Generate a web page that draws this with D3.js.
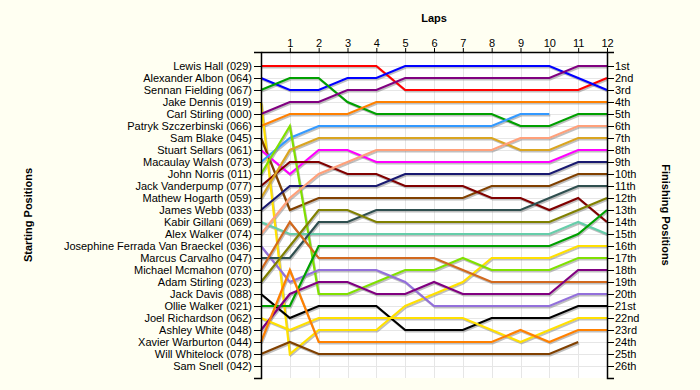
<!DOCTYPE html>
<html>
<head>
<meta charset="utf-8">
<script src="https://cdn.jsdelivr.net/npm/d3@7"></script>
<style>
  html, body { margin: 0; padding: 0; background: #FFFFF2; }
  svg { display: block; }
  text { font-family: "Liberation Sans", Arial, sans-serif; }
</style>
</head>
<body>
<svg id="chart" width="700" height="390"></svg>
<script>
const lapTicks = [1, 2, 3, 4, 5, 6, 7, 8, 9, 10, 11, 12];
const laps = [0, 1, 2, 3, 4, 5, 6, 7, 8, 9, 10, 11, 12];

const drivers = [
  "Lewis Hall (029)", "Alexander Albon (064)", "Sennan Fielding (067)", "Jake Dennis (019)",
  "Carl Stirling (000)", "Patryk Szczerbinski (066)", "Sam Blake (045)", "Stuart Sellars (061)",
  "Macaulay Walsh (073)", "John Norris (011)", "Jack Vanderpump (077)", "Mathew Hogarth (059)",
  "James Webb (033)", "Kabir Gillani (069)", "Alex Walker (074)", "Josephine Ferrada Van Braeckel (036)",
  "Marcus Carvalho (047)", "Michael Mcmahon (070)", "Adam Stirling (023)", "Jack Davis (088)",
  "Ollie Walker (021)", "Joel Richardson (062)", "Ashley White (048)", "Xavier Warburton (044)",
  "Will Whitelock (078)", "Sam Snell (042)"
];

const finishLabels = [
  "1st", "2nd", "3rd", "4th", "5th", "6th", "7th", "8th", "9th", "10th", "11th", "12th", "13th",
  "14th", "15th", "16th", "17th", "18th", "19th", "20th", "21st", "22nd", "23rd", "24th", "25th", "26th"
];

const colors = [
  "#ff0000", "#0000ff", "#00a000", "#ffe000", "#800080", "#ff8000", "#804000", "#ff00ff",
  "#3399ff", "#80e000", "#800000", "#daa520", "#191970", "#66cdaa", "#ffa07a", "#9370db",
  "#2f4f4f", "#d2691e", "#808000", "#000000", "#00a000", "#ffe000", "#800080", "#ff8000",
  "#804000", "#ff00ff"
];

// position held by each driver at laps 0..12 (null = not running)
const lapPositions = [
  [1, 1, 1, 1, 1, 3, 3, 3, 3, 3, 3, 3, 2],
  [2, 3, 3, 2, 2, 1, 1, 1, 1, 1, 1, 2, 3],
  [3, 2, 2, 4, 5, 5, 5, 5, 5, 6, 6, 5, 5],
  [4, 25, 23, 23, 23, 21, 20, 19, 17, 17, 17, 16, 16],
  [5, 4, 4, 3, 3, 2, 2, 2, 2, 2, 2, 1, 1],
  [6, 5, 5, 5, 4, 4, 4, 4, 4, 4, 4, 4, 4],
  [7, 13, 12, 12, 12, 12, 12, 12, 11, 11, 11, 10, 10],
  [8, 10, 8, 8, 9, 9, 9, 9, 9, 9, 9, 8, 8],
  [9, 7, 6, 6, 6, 6, 6, 6, 6, 5, 5, null, null],
  [10, 6, 20, 20, 19, 18, 18, 17, 18, 18, 18, 17, 17],
  [11, 9, 9, 10, 10, 11, 11, 11, 12, 12, 13, 12, 14],
  [12, 8, 7, 7, 7, 7, 7, 7, 7, 8, 8, 7, 7],
  [13, 11, 11, 11, 11, 10, 10, 10, 10, 10, 10, 9, 9],
  [14, 15, 15, 15, 15, 15, 15, 15, 15, 15, 15, 14, 15],
  [15, 12, 10, 9, 8, 8, 8, 8, 8, 7, 7, 6, 6],
  [16, 19, 18, 18, 18, 19, 21, 21, 21, 21, 21, 20, 20],
  [17, 17, 14, 14, 13, 13, 13, 13, 13, 13, 12, 11, 11],
  [18, 14, 17, 17, 17, 17, 17, 18, 19, 19, 19, 19, 19],
  [19, 16, 13, 13, 14, 14, 14, 14, 14, 14, 14, 13, 12],
  [20, 22, 21, 21, 21, 23, 23, 23, 22, 22, 22, 21, 21],
  [21, 21, 16, 16, 16, 16, 16, 16, 16, 16, 16, 15, 13],
  [22, 23, 22, 22, 22, 22, 22, 22, 23, 24, 23, 22, 22],
  [23, 20, 19, 19, 20, 20, 19, 20, 20, 20, 20, 18, 18],
  [24, 18, 24, 24, 24, 24, 24, 24, 24, 23, 24, 23, 23],
  [25, 24, 25, 25, 25, 25, 25, 25, 25, 25, 25, 24, null],
  [null, null, null, null, null, null, null, null, null, null, null, null, null]
];

const svg = d3.select("#chart");
const x = d3.scaleLinear().domain([0, 12]).range([261, 607]);
const y = d3.scaleLinear().domain([-1 / 6, 27]).range([52, 378]);
const positions = d3.range(1, 27);

// plot background
svg.append("rect")
  .attr("x", x(0)).attr("y", y(-1 / 6))
  .attr("width", x(12) - x(0)).attr("height", y(27) - y(-1 / 6))
  .attr("fill", "#ffffff");

// grid
const grid = svg.append("g").attr("stroke", "#e6e6e6").attr("stroke-width", 1);
grid.selectAll("line.v").data(lapTicks).join("line")
  .attr("class", "v")
  .attr("x1", d => Math.round(x(d)) + 0.5).attr("x2", d => Math.round(x(d)) + 0.5)
  .attr("y1", y(-1 / 6)).attr("y2", y(27));
grid.selectAll("line.h").data(positions).join("line")
  .attr("class", "h")
  .attr("x1", x(0)).attr("x2", x(12))
  .attr("y1", d => Math.round(y(d)) + 0.5).attr("y2", d => Math.round(y(d)) + 0.5);

// lines
const line = d3.line()
  .defined(d => d != null)
  .x((d, i) => x(laps[i]))
  .y(d => y(d));

const series = lapPositions.map((p, i) => ({ p, color: colors[i] }));

svg.append("g")
  .attr("transform", "translate(1,1.5)")
  .selectAll("path").data(series).join("path")
  .attr("d", d => line(d.p))
  .attr("fill", "none")
  .attr("stroke", "#8a8a8a")
  .attr("stroke-opacity", 0.55)
  .attr("stroke-width", 2);

svg.append("g")
  .selectAll("path").data(series).join("path")
  .attr("d", d => line(d.p))
  .attr("fill", "none")
  .attr("stroke", d => d.color)
  .attr("stroke-width", 2.2)
  .attr("stroke-linejoin", "miter");

function styleAxis(g) {
  g.attr("font-family", "Liberation Sans, Arial, sans-serif").attr("font-size", 11);
  g.selectAll("text").attr("fill", "#000");
  g.selectAll(".tick line").attr("stroke", "#000");
  g.select(".domain").attr("stroke", "#000").attr("stroke-width", 1.5);
}

// top axis
svg.append("g")
  .attr("transform", `translate(0,${y(-1 / 6)})`)
  .call(d3.axisTop(x).tickValues(lapTicks).tickSize(4).tickSizeOuter(0).tickPadding(1))
  .call(styleAxis);

// left axis
svg.append("g")
  .attr("transform", `translate(${x(0)},0)`)
  .call(d3.axisLeft(y).tickValues(positions).tickFormat(d => drivers[d - 1])
    .tickSize(7).tickSizeOuter(7).tickPadding(2))
  .call(styleAxis);

// right axis
svg.append("g")
  .attr("transform", `translate(${x(12)},0)`)
  .call(d3.axisRight(y).tickValues(positions).tickFormat(d => finishLabels[d - 1])
    .tickSize(7).tickSizeOuter(7).tickPadding(1))
  .call(styleAxis);

// titles
svg.append("text")
  .attr("x", (x(0) + x(12)) / 2).attr("y", 22)
  .attr("text-anchor", "middle")
  .attr("font-size", 11).attr("font-weight", "bold")
  .text("Laps");

svg.append("text")
  .attr("transform", "translate(32,215) rotate(-90)")
  .attr("text-anchor", "middle")
  .attr("font-size", 11).attr("font-weight", "bold")
  .text("Starting Positions");

svg.append("text")
  .attr("transform", "translate(662,215) rotate(90)")
  .attr("text-anchor", "middle")
  .attr("font-size", 11).attr("font-weight", "bold")
  .text("Finishing Positions");
</script>
</body>
</html>
